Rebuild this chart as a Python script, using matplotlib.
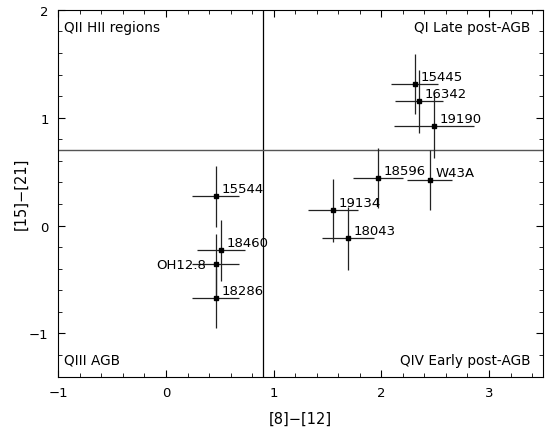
import matplotlib
matplotlib.use('Agg')
import matplotlib.pyplot as plt
from matplotlib.ticker import MultipleLocator

# source names and colours
names = ['15544', '18460', 'OH12.8', '18286', '19134', '18043',
         '18596', 'W43A', '15445', '16342', '19190']
col_8_12 = [0.46, 0.51, 0.46, 0.46, 1.55, 1.69, 1.97, 2.45, 2.31, 2.35, 2.49]
col_15_21 = [0.27, -0.23, -0.36, -0.67, 0.14, -0.12, 0.44, 0.42, 1.31, 1.15, 0.92]
err_8_12 = [0.22, 0.22, 0.22, 0.22, 0.23, 0.24, 0.23, 0.21, 0.22, 0.22, 0.37]
err_15_21 = [0.28, 0.28, 0.28, 0.28, 0.29, 0.29, 0.28, 0.28, 0.28, 0.29, 0.29]

# quadrant borders
x_split = 0.9
y_split = 0.7

fig = plt.figure(figsize=(5.45, 4.31), dpi=100)
ax = fig.add_axes([0.107, 0.124, 0.889, 0.851])

ax.axvline(x_split, color='k', lw=0.9)
ax.axhline(y_split, color='#555555', lw=1.0)

ax.errorbar(col_8_12, col_15_21, xerr=err_8_12, yerr=err_15_21,
            fmt='s', ms=3, color='k', ecolor='#222222', elinewidth=0.9, capsize=0)

for name, x, y in zip(names, col_8_12, col_15_21):
    if name == 'OH12.8':
        ax.annotate(name, (x, y), xytext=(-7, 0), textcoords='offset points',
                    ha='right', va='center', fontsize=9.5)
    else:
        ax.annotate(name, (x, y), xytext=(4, 3), textcoords='offset points',
                    ha='left', va='baseline', fontsize=9.5)

# Quadrant names
qsize = 9.8
ax.text(0.012, 0.973, 'QII HII regions', transform=ax.transAxes,
        ha='left', va='top', fontsize=qsize)
ax.text(0.975, 0.973, 'QI Late post-AGB', transform=ax.transAxes,
        ha='right', va='top', fontsize=qsize)
ax.text(0.012, 0.027, 'QIII AGB', transform=ax.transAxes,
        ha='left', va='bottom', fontsize=qsize)
ax.text(0.975, 0.027, 'QIV Early post-AGB', transform=ax.transAxes,
        ha='right', va='bottom', fontsize=qsize)

ax.set_xlim(-1, 3.5)
ax.set_ylim(-1.4, 2)
ax.xaxis.set_major_locator(MultipleLocator(1))
ax.xaxis.set_minor_locator(MultipleLocator(0.2))
ax.yaxis.set_major_locator(MultipleLocator(1))
ax.yaxis.set_minor_locator(MultipleLocator(0.2))
ax.tick_params(which='both', direction='in', top=True, right=True, labelsize=9.5)
ax.tick_params(which='major', length=5, pad=7)
ax.tick_params(which='minor', length=3)

ax.set_xlabel('[8]\u2212[12]', fontsize=10.5, labelpad=8)
ax.set_ylabel('[15]\u2212[21]', fontsize=10.5, labelpad=0)

plt.savefig('out.png', dpi=100)
